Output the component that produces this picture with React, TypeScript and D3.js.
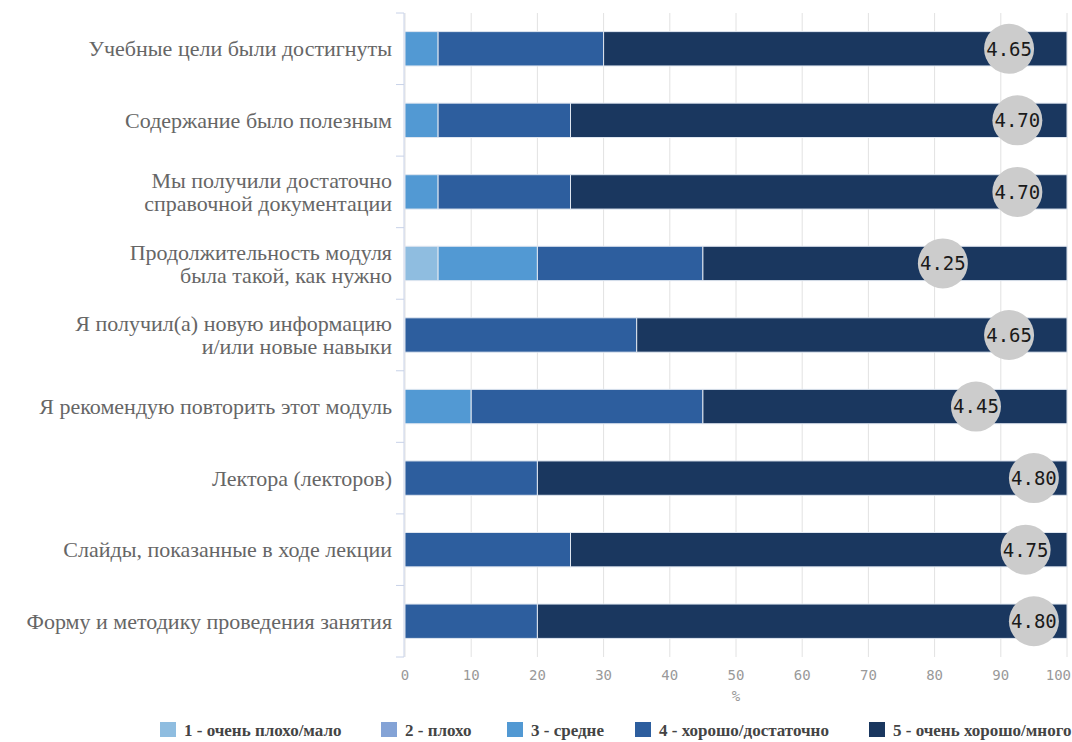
import React from "react";
import * as d3 from "d3";

const categories: string[][] = [
  ["Учебные цели были достигнуты"],
  ["Содержание было полезным"],
  ["Мы получили достаточно", "справочной документации"],
  ["Продолжительность модуля", "была такой, как нужно"],
  ["Я получил(а) новую информацию", "и/или новые навыки"],
  ["Я рекомендую повторить этот модуль"],
  ["Лектора (лекторов)"],
  ["Слайды, показанные в ходе лекции"],
  ["Форму и методику проведения занятия"],
];

const seriesNames = [
  "1 - очень плохо/мало",
  "2 - плохо",
  "3 - средне",
  "4 - хорошо/достаточно",
  "5 - очень хорошо/много",
];
const seriesColors = ["#8fbde0", "#84a3d6", "#5299d3", "#2d5e9e", "#1a375f"];

const s1 = [0, 0, 0, 5, 0, 0, 0, 0, 0];
const s2 = [0, 0, 0, 0, 0, 0, 0, 0, 0];
const s3 = [5, 5, 5, 15, 0, 10, 0, 0, 0];
const s4 = [25, 20, 20, 25, 35, 35, 20, 25, 20];
const s5 = [70, 75, 75, 55, 65, 55, 80, 75, 80];
const means = [4.65, 4.7, 4.7, 4.25, 4.65, 4.45, 4.8, 4.75, 4.8];
const xTicks = [0, 10, 20, 30, 40, 50, 60, 70, 80, 90, 100];

const legendX = [160, 381, 507, 635, 869];

export default function App() {
  const W = 1072;
  const H = 742;
  const left = 405;
  const right = 1067;
  const top = 13;
  const bottom = 657;
  const x = d3.scaleLinear().domain([0, 100]).range([left, right]);
  const meanX = d3.scaleLinear().domain([1, 5]).range([left, right]);
  const idx = categories.map((_, i) => i);
  const y = d3.scaleBand<number>().domain(idx).range([top, bottom]).paddingInner(0.52).paddingOuter(0.26);
  const yb = d3.scaleBand<number>().domain(idx).range([top, bottom]);
  const stackData = idx.map((i) => ({ i, s0: s1[i], s1: s2[i], s2: s3[i], s3: s4[i], s4: s5[i] }));
  const stack = d3.stack<any>().keys(["s0", "s1", "s2", "s3", "s4"])(stackData);
  const monoFont = "'DejaVu Sans Mono', monospace";
  const serif = "'Liberation Serif', serif";

  return (
    <svg width={W} height={H} style={{ position: "absolute", left: 0, top: 0, background: "#fff" }}>
      {/* grid */}
      {xTicks.map((t) => (
        <line key={"g" + t} x1={x(t)} x2={x(t)} y1={top} y2={bottom} stroke="#e2e2e2" strokeWidth={1} />
      ))}
      {/* y axis */}
      <line x1={left - 1} x2={left - 1} y1={top} y2={bottom} stroke="#c8d2e8" strokeWidth={1} />
      {idx.map((i) => (
        <line key={"yt" + i} x1={left - 9} x2={left - 1} y1={(yb(i) as number) + yb.bandwidth()} y2={(yb(i) as number) + yb.bandwidth()} stroke="#c8d2e8" />
      ))}
      <line x1={left - 9} x2={left - 1} y1={top} y2={top} stroke="#c8d2e8" />
      {/* bars */}
      {stack.map((layer, k) =>
        layer.map((d, i) => {
          const w = x(d[1]) - x(d[0]);
          if (w <= 0) return null;
          return (
            <rect
              key={k + "-" + i}
              x={x(d[0])}
              y={y(i)}
              width={w}
              height={y.bandwidth()}
              fill={seriesColors[k]}
              stroke="#dfe6f0"
              strokeWidth={1}
            />
          );
        })
      )}
      {/* mean circles */}
      {means.map((m, i) => {
        const cy = (y(i) as number) + y.bandwidth() / 2;
        return (
          <g key={"m" + i}>
            <circle cx={meanX(m)} cy={cy} r={25} fill="#cccccc" />
            <text x={meanX(m)} y={cy} dy="0.36em" textAnchor="middle" fontFamily={monoFont} fontSize={19} fill="#1a1a1a">
              {m.toFixed(2)}
            </text>
          </g>
        );
      })}
      {/* category labels */}
      {categories.map((lines, i) => {
        const cy = (y(i) as number) + y.bandwidth() / 2;
        const lh = 23;
        const start = cy - ((lines.length - 1) * lh) / 2;
        return (
          <text key={"c" + i} textAnchor="end" fontFamily={serif} fontSize={22} fill="#666">
            {lines.map((l, j) => (
              <tspan key={j} x={392} y={start + j * lh} dy="0.35em">
                {l}
              </tspan>
            ))}
          </text>
        );
      })}
      {/* x tick labels */}
      {xTicks.map((t, k) => {
        const last = k === xTicks.length - 1;
        return (
          <text key={"xt" + t} x={last ? 1071 : x(t)} y={680} textAnchor={last ? "end" : "middle"} fontFamily={monoFont} fontSize={14} fill="#999">
            {t}
          </text>
        );
      })}
      <text x={(left + right) / 2} y={701} textAnchor="middle" fontFamily={monoFont} fontSize={14} fill="#999">
        %
      </text>
      {/* legend */}
      {seriesNames.map((n, k) => (
        <g key={"l" + k}>
          <rect x={legendX[k]} y={722} width={16} height={15} fill={seriesColors[k]} />
          <text x={legendX[k] + 24} y={736} fontFamily={serif} fontWeight="bold" fontSize={17} fill="#444">
            {n}
          </text>
        </g>
      ))}
    </svg>
  );
}
